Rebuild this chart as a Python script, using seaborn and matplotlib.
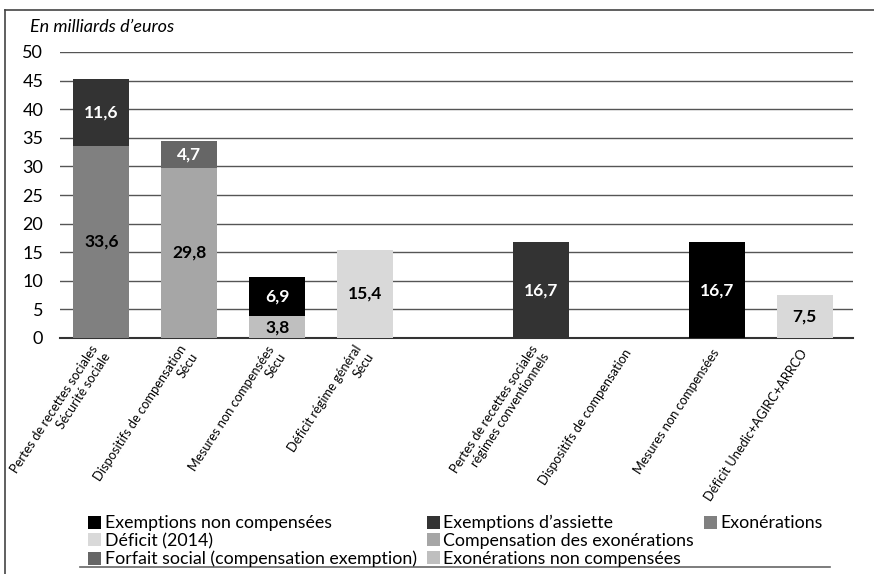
import pandas as pd
import numpy as np
import matplotlib
matplotlib.use("Agg")
from matplotlib import pyplot as plt
from matplotlib import font_manager as fm
from matplotlib.patches import Patch
from matplotlib.lines import Line2D
import seaborn as sns

# categories (one blank slot separates the two groups)
categories = [
    "Pertes de recettes sociales\nSécurité sociale",
    "Dispositifs de compensation\nSécu",
    "Mesures non compensées\nSécu",
    "Déficit régime général\nSécu",
    "",
    "Pertes de recettes sociales\nrégimes conventionnels",
    "Dispositifs de compensation",
    "Mesures non compensées",
    "Déficit Unedic+AGIRC+ARRCO",
]

# stacked segments: category, component, value (bottom first)
seg_category = [categories[0], categories[0],
                categories[1], categories[1],
                categories[2], categories[2],
                categories[3],
                categories[5],
                categories[7],
                categories[8]]
seg_component = ["Exonérations", "Exemptions d’assiette",
                 "Compensation des exonérations", "Forfait social (compensation exemption)",
                 "Exonérations non compensées", "Exemptions non compensées",
                 "Déficit (2014)",
                 "Exemptions d’assiette",
                 "Exemptions non compensées",
                 "Déficit (2014)"]
seg_value = [33.6, 11.6, 29.8, 4.7, 3.8, 6.9, 15.4, 16.7, 16.7, 7.5]

components = ["Exemptions non compensées", "Exemptions d’assiette", "Exonérations",
              "Déficit (2014)", "Compensation des exonérations",
              "Forfait social (compensation exemption)", "Exonérations non compensées"]
comp_colors = ["#000000", "#333333", "#808080", "#d9d9d9", "#a6a6a6", "#666666", "#bfbfbf"]
palette = dict(zip(components, comp_colors))

df = pd.DataFrame({"cat": seg_category, "component": seg_component, "value": seg_value})
df["base"] = df.groupby("cat")["value"].cumsum() - df["value"]
df["top"] = df["base"] + df["value"]
df["layer"] = df.groupby("cat").cumcount()

names = {f.name for f in fm.fontManager.ttflist}
narrow = "Liberation Sans Narrow" if "Liberation Sans Narrow" in names else "Lato"

plt.rcParams["font.family"] = ["Lato", "DejaVu Sans"]

fig = plt.figure(figsize=(8.74, 5.74), dpi=100)
ax = fig.add_axes([60 / 874, 1 - 338 / 574, (853 - 60) / 874, (338 - 52) / 574])

# draw upper layers first (full height), then lower ones over them
for layer in sorted(df["layer"].unique(), reverse=True):
    sub = df[df["layer"] == layer]
    sns.barplot(data=sub, x="cat", y="top", hue="component", palette=palette,
                order=categories, hue_order=components, dodge=False, width=0.64,
                linewidth=0, legend=False, ax=ax, zorder=3)

# value labels
for _, r in df.iterrows():
    xi = categories.index(r["cat"])
    dark = palette[r["component"]] in ("#000000", "#333333", "#666666")
    ax.text(xi, r["base"] + r["value"] / 2, f"{r['value']:.1f}".replace(".", ","),
            ha="center", va="center", fontsize=12.5, fontweight="bold",
            color="white" if dark else "black", zorder=4)

ax.set_ylim(0, 50)
ax.set_xlim(-0.47, 8.55)
ax.set_yticks(np.arange(0, 51, 5))
ax.yaxis.grid(True, color="#555555", linewidth=1)
ax.set_axisbelow(True)
for s in ["left", "right", "top"]:
    ax.spines[s].set_visible(False)
ax.spines["bottom"].set_color("#333333")
ax.spines["bottom"].set_linewidth(1.5)
ax.tick_params(axis="both", length=0)
ax.tick_params(axis="y", labelsize=13, pad=12)
ax.set_xlabel("")
ax.set_ylabel("")
ax.set_xticks(range(len(categories)))
fs = 10.5 if narrow != "Lato" else 9.3
ax.set_xticklabels(categories, rotation=57, ha="right", va="center",
                   rotation_mode="anchor", multialignment="right",
                   fontsize=fs, family=narrow)
ax.tick_params(axis="x", pad=9)

fig.text(30 / 874, 1 - 27 / 574, "En milliards d’euros", style="italic",
         fontsize=13, va="center", ha="left")

# legend: 3 columns, third column padded with a blank entry
handles = [Patch(facecolor=palette[c], edgecolor="none") for c in components]
labels = list(components)
order_idx = [0, 3, 5, 1, 4, 6, 2]
h = [handles[i] for i in order_idx] + [Patch(facecolor="none", edgecolor="none")]
l = [labels[i] for i in order_idx] + [""]
fig.legend(h, l, ncol=3, loc="upper left", bbox_to_anchor=(79 / 874, 1 - 506 / 574),
           frameon=False, fontsize=12.8, handlelength=0.75, handleheight=0.75,
           handletextpad=0.2, columnspacing=0.55, labelspacing=0.1, borderpad=0)

# frame lines
fig.add_artist(Line2D([5 / 874, 1], [1 - 10 / 574] * 2, color="#444444", lw=1.2))
fig.add_artist(Line2D([5 / 874] * 2, [0, 1 - 10 / 574], color="#444444", lw=1.2))
fig.add_artist(Line2D([80 / 874, 830 / 874], [1 - 567 / 574] * 2, color="#666666", lw=1.2))

fig.savefig("out.png", dpi=100)
